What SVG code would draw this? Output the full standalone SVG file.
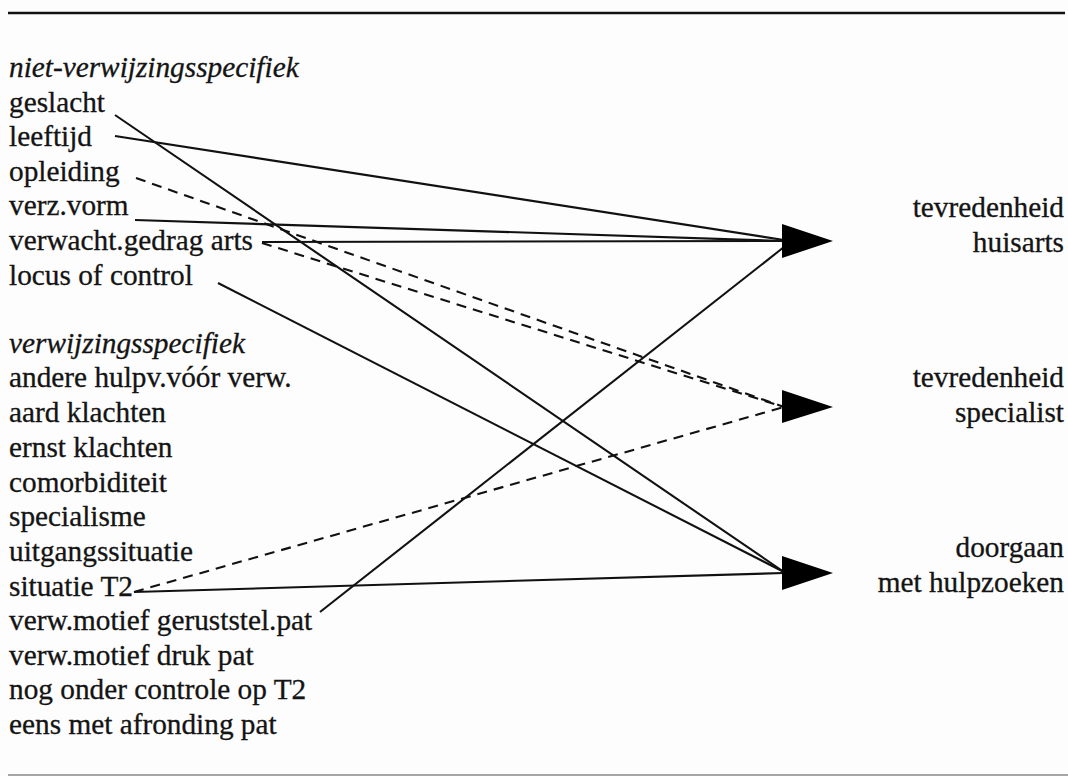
<svg xmlns="http://www.w3.org/2000/svg" width="1068" height="776" viewBox="0 0 1068 776">
<style>
text{font-family:"Liberation Serif","Times New Roman",serif;font-size:29.3px;fill:#141414;stroke:#141414;stroke-width:0.3}
.it{font-style:italic}
.r{text-anchor:end}
.c{stroke:#111;stroke-width:2.1;fill:none}
.d{stroke-dasharray:10 7}
.ah{fill:#000}
</style>
<rect width="1068" height="776" fill="#fdfdfd"/>
<line x1="8" y1="13" x2="1065" y2="13" stroke="#111" stroke-width="2.6"/>
<line x1="8" y1="775" x2="1068" y2="775" stroke="#888" stroke-width="1.5"/>
<g id="left-labels">
<g id="h1"><text class="it" x="9" y="77">niet-verwijzingsspecifiek</text></g>
<g id="n-geslacht"><text x="9" y="111.6">geslacht</text></g>
<g id="n-leeftijd"><text x="9" y="146.2">leeftijd</text></g>
<g id="n-opleiding"><text x="9" y="180.8">opleiding</text></g>
<g id="n-verzvorm"><text x="9" y="215.4">verz.vorm</text></g>
<g id="n-verwacht"><text x="9" y="250">verwacht.gedrag arts</text></g>
<g id="n-locus"><text x="9" y="284.6">locus of control</text></g>
<g id="h2"><text class="it" x="9" y="353.2">verwijzingsspecifiek</text></g>
<g id="n-andere"><text x="9" y="387.4">andere hulpv.vóór verw.</text></g>
<g id="n-aard"><text x="9" y="422.4">aard klachten</text></g>
<g id="n-ernst"><text x="9" y="457.2">ernst klachten</text></g>
<g id="n-comorb"><text x="9" y="491.8">comorbiditeit</text></g>
<g id="n-specialisme"><text x="9" y="526.4">specialisme</text></g>
<g id="n-uitgang"><text x="9" y="561">uitgangssituatie</text></g>
<g id="n-situatie"><text x="9" y="595.6">situatie T2</text></g>
<g id="n-gerust"><text x="9" y="630.2">verw.motief geruststel.pat</text></g>
<g id="n-druk"><text x="9" y="664.8">verw.motief druk pat</text></g>
<g id="n-nog"><text x="9" y="699.4">nog onder controle op T2</text></g>
<g id="n-eens"><text x="9" y="734">eens met afronding pat</text></g>
</g>
<g id="o-huisarts"><text class="r" x="1064" y="217">tevredenheid</text><text class="r" x="1064" y="252">huisarts</text></g>
<g id="o-specialist"><text class="r" x="1064" y="387">tevredenheid</text><text class="r" x="1064" y="422">specialist</text></g>
<g id="o-doorgaan"><text class="r" x="1064" y="557">doorgaan</text><text class="r" x="1064" y="592">met hulpzoeken</text></g>
<g id="connectors">
<line class="c" x1="115" y1="115" x2="784" y2="572"/>
<line class="c" x1="115" y1="136" x2="784" y2="240"/>
<line class="c d" x1="136" y1="178" x2="784" y2="407"/>
<line class="c" x1="135" y1="220" x2="784" y2="241"/>
<line class="c" x1="262" y1="242" x2="784" y2="241"/>
<line class="c d" x1="262" y1="243" x2="784" y2="407"/>
<line class="c" x1="218" y1="283" x2="784" y2="572"/>
<line class="c" x1="134" y1="592" x2="784" y2="573"/>
<line class="c d" x1="134" y1="592" x2="784" y2="407"/>
<line class="c" x1="320" y1="612" x2="784" y2="247"/>
<polygon class="ah" points="782,224 833,241 782,258"/>
<polygon class="ah" points="782,390 833,407 782,423"/>
<polygon class="ah" points="782,556 833,573 782,590"/>
</g>
</svg>
